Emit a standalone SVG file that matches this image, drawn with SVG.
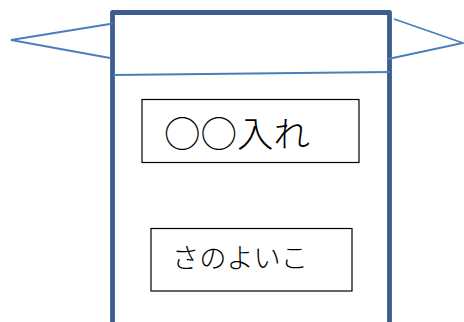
<svg xmlns="http://www.w3.org/2000/svg" width="464" height="322" viewBox="0 0 464 322">
<style>
.frame{fill:none;stroke:#3b5e8c;stroke-width:4.8;stroke-linejoin:round}
.thin{fill:none;stroke:#4a7ebb;stroke-width:1.8}
.box{fill:#fff;stroke:#000;stroke-width:1.2}
.lbl{font-family:"Noto Sans CJK JP","Noto Sans",sans-serif;font-weight:300;fill:#000}
</style>
<rect width="464" height="322" fill="#fff"/>
<g id="frame">
<path class="frame" d="M112.5,330 V12.5 H389.5 V330"/>
</g>
<g id="connectors">
<line class="thin" x1="113" y1="75" x2="390" y2="72"/>
<polyline class="thin" points="113,23.5 11,40 110,58"/>
<polyline class="thin" points="394,19 463,43 388,59"/>
</g>
<g id="node1">
<rect class="box" x="142" y="99.5" width="217" height="63"/>
<text class="lbl" x="164" y="147" font-size="35" textLength="146" lengthAdjust="spacingAndGlyphs">○○入れ</text>
</g>
<g id="node2">
<rect class="box" x="151" y="228.5" width="201" height="62.5"/>
<text class="lbl" x="172" y="268" font-size="27" textLength="136" lengthAdjust="spacingAndGlyphs">さのよいこ</text>
</g>
</svg>
